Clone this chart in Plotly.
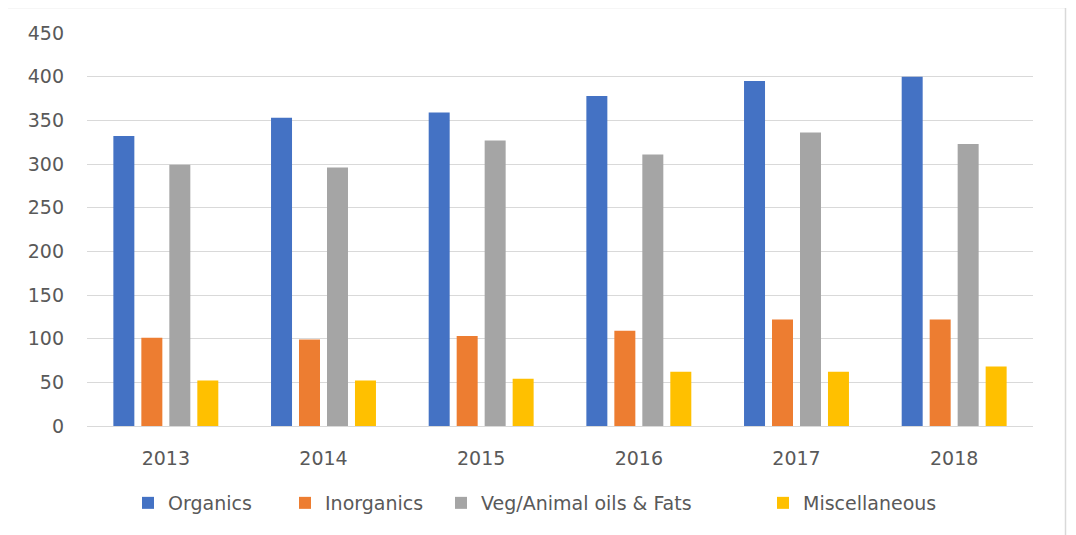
import plotly.graph_objects as go

years = ["2013", "2014", "2015", "2016", "2017", "2018"]
organics = [332, 353, 359, 378, 395, 400]
inorganics = [101, 99, 103, 109, 122, 122]
veg_oils = [299, 296, 327, 311, 336, 323]
misc = [52, 52, 54, 62, 62, 68]

names = ["Organics", "Inorganics", "Veg/Animal oils & Fats", "Miscellaneous"]
colors = ["#4472C4", "#ED7D31", "#A5A5A5", "#FFC000"]
values = [organics, inorganics, veg_oils, misc]

# page body has an 8px margin; figure laid out in page pixels minus 8
OFF = 8
W, H = 1076 - OFF, 535 - OFF
L, T = 87 - OFF, 33 - OFF
R = W - (1033 - OFF)
B = H - (426 - OFF)
pw = W - L - R
ph = H - T - B

def px_x(p):
    return (p - OFF - L) / pw

def px_y(p):
    return (H - B - (p - OFF)) / ph

font = "'DejaVu Sans', sans-serif"
TXT = "#595959"
FS = 19

# legend square centres in the page (layout only)
leg_sq = [150, 307, 463, 785]
leg_ids = ["legend", "legend2", "legend3", "legend4"]

fig = go.Figure()
for name, vals, col, lid in zip(names, values, colors, leg_ids):
    fig.add_trace(go.Bar(x=years, y=vals, name=name, legend=lid, showlegend=True,
                         marker=dict(color=col, line=dict(width=0))))

layout = dict(
    width=W, height=H,
    margin=dict(l=L, r=R, t=T, b=B, autoexpand=False),
    paper_bgcolor="white", plot_bgcolor="white",
    showlegend=True,
    barmode="group", bargap=0.29, bargroupgap=0.25,
    font=dict(family=font, size=FS, color=TXT),
    yaxis=dict(range=[0, 450], dtick=50, showgrid=True, gridcolor="#D9D9D9", gridwidth=1,
               zeroline=True, zerolinecolor="#D9D9D9", zerolinewidth=1,
               ticks="", tickfont=dict(size=FS, color=TXT), ticklabelstandoff=22),
    xaxis=dict(showgrid=False, showline=True, linecolor="#D9D9D9", ticks="",
               tickfont=dict(size=FS, color=TXT), ticklabelstandoff=15),
    shapes=[dict(type="rect", xref="paper", yref="paper",
                 x0=px_x(5.5), x1=px_x(1065.5), y0=px_y(560), y1=px_y(7.5),
                 line=dict(color="#D9D9D9", width=1.5), fillcolor="rgba(0,0,0,0)", layer="below")],
)
for lid, sq in zip(leg_ids, leg_sq):
    layout[lid] = dict(orientation="h", x=px_x(sq - 22), xanchor="left",
                       y=px_y(503), yanchor="middle", visible=True,
                       font=dict(size=FS, color=TXT), itemwidth=30,
                       bgcolor="rgba(0,0,0,0)")
fig.update_layout(**layout)

fig.write_html("out.html")
